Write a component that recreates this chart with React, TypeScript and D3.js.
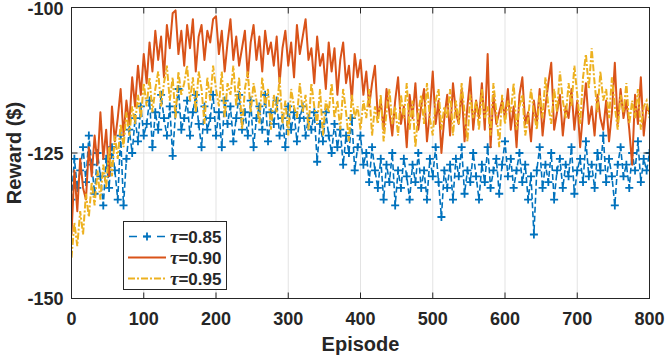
import * as d3 from "d3";

const tau085 = [
  -133, -126, -131, -128, -124, -130, -122, -127, -132, -125,
  -129, -134, -126, -131, -124, -128, -133, -122, -134, -126,
  -121, -125, -119, -123, -117, -122, -120, -116, -124, -118,
  -121, -115, -119, -122, -117, -125.5, -118, -114, -121, -119,
  -116, -122, -118, -115, -120, -124, -117, -121, -119, -115,
  -122, -118, -124, -116, -120, -117, -123, -119, -115, -121,
  -118, -122, -116, -124, -119, -117, -121, -115, -123, -118,
  -120, -116, -122, -119, -124, -117, -121, -118, -123, -119,
  -117, -122, -119, -121, -118, -126.5, -120, -123, -118, -122,
  -125, -120, -124, -121, -127, -122, -125, -119, -128, -124,
  -122, -127, -125, -130, -124, -128, -131, -126, -133, -127,
  -130, -125, -134, -128, -131, -126, -129, -133, -127, -130,
  -125, -131, -128, -133, -126, -129, -124, -130, -136, -128,
  -131, -127, -133, -126, -129, -124, -132, -128, -130, -125,
  -129, -133, -127, -130, -124, -131, -128, -126, -132, -127,
  -123, -129, -126, -131, -128, -125, -130, -127, -133, -129,
  -139, -128, -124, -131, -127, -130, -125, -133, -128, -126,
  -131, -127, -129, -124, -132, -128, -126, -130, -123, -129,
  -127, -131, -125, -128, -122, -130, -126, -129, -134, -127,
  -124, -129, -127, -131, -125, -128, -123, -130, -126, -128,
  -125,
];

const tau090 = [
  -139, -128, -135, -126, -131, -133, -124, -129, -122, -127,
  -118, -126, -121, -129, -117, -123, -119, -114, -122, -116,
  -120, -112, -117, -110, -115, -108, -113, -106, -111, -104,
  -109, -105, -112, -103, -107, -101, -100.5, -108, -104, -110,
  -103, -107, -102, -111, -105, -103, -109, -104, -106, -102,
  -101.5, -108, -104, -111, -106, -102, -109, -105, -110, -107,
  -104, -112, -106, -103, -109, -105, -111, -104, -108, -106,
  -110, -105, -113, -107, -104, -110, -106, -112, -103, -108,
  -105, -102, -109, -107, -113, -105, -110, -108, -114, -106,
  -111, -107, -115, -109, -106, -113, -110, -116, -108, -112,
  -109, -115, -111, -117, -113, -110, -119, -116, -121, -114,
  -118, -122, -116, -112, -120, -117, -124, -115, -119, -113,
  -121, -117, -114, -123, -118, -111, -120, -116, -125, -119,
  -115, -122, -113, -118, -120, -114, -123, -117, -112, -121,
  -116, -119, -113, -121, -108, -124, -115, -120, -118, -116,
  -119, -114, -121, -117, -124, -115, -112, -120, -118, -123,
  -116, -120, -114, -122, -117, -113, -109.5, -121, -118, -115,
  -122, -117, -119, -114, -121, -116, -124, -118, -113, -120,
  -117, -122, -115, -119, -121, -116, -123, -118, -109.5, -120,
  -114, -119, -116, -121, -127, -115, -120, -112, -122, -117,
  -118,
];

const tau095 = [
  -143, -137, -141, -135, -139, -132, -136, -130, -134, -128,
  -133, -127, -131, -124, -129, -122, -126, -120, -124, -118,
  -122, -117, -120, -115, -119, -113, -117, -112, -118, -114,
  -111, -117, -113, -110, -116, -112, -119, -111, -115, -113,
  -110, -116, -112, -118, -111, -114, -120, -112, -116, -110,
  -114, -117, -111, -119, -113, -115, -110, -117, -112, -121,
  -114, -111, -118, -113, -116, -120, -112, -117, -114, -121,
  -115, -118, -112, -120, -116, -122, -114, -117, -119, -113,
  -118, -115, -121, -113, -117, -120, -114, -122, -116, -118,
  -113, -119, -116, -121, -114, -118, -123, -115, -119, -117,
  -121, -116, -119, -114, -122, -117, -120, -115, -123, -118,
  -114, -120, -117, -122, -115, -119, -113, -121, -116, -124,
  -118, -115, -120, -113, -119, -122, -116, -114, -121, -117,
  -119, -114, -122, -116, -120, -113, -118, -123, -115, -119,
  -116, -121, -114, -119, -117, -122, -113, -118, -124, -115,
  -120, -116, -118, -113, -121, -117, -115, -122, -119, -114,
  -118, -121, -115, -119, -112, -117, -120, -114, -118, -111,
  -116, -119, -113, -117, -110, -115, -120, -112, -108, -114,
  -107, -113, -118, -111, -116, -114, -119, -112, -117, -121,
  -115, -118, -113, -120, -116, -119, -114, -121, -117, -116,
  -119,
];

const episodeStep = 4;
const xTicks = [0, 100, 200, 300, 400, 500, 600, 700, 800];
const yTicks = [-150, -125, -100];
const legendLabels = ["=0.85", "=0.90", "=0.95"];

const blue = "#0072BD";
const orange = "#D95319";
const yellow = "#EDB120";
const axisColor = "#262626";
const font = "'Liberation Sans', Arial, Helvetica, sans-serif";

export default function App() {
  const width = 665, height = 358;
  const margin = { top: 7.5, right: 15.5, bottom: 59.5, left: 71.5 };
  const x0 = margin.left, x1 = width - margin.right;
  const y0 = margin.top, y1 = height - margin.bottom;

  const xScale = d3.scaleLinear().domain([0, 800]).range([x0, x1]);
  const yScale = d3.scaleLinear().domain([-150, -100]).range([y1, y0]);

  const toPts = (arr: number[]) => arr.map((v, i) => ({ x: i * episodeStep, y: v }));
  const line = d3.line<{ x: number; y: number }>()
    .x((d) => xScale(d.x))
    .y((d) => yScale(d.y));

  const bluePts = toPts(tau085);
  const tick = 6;

  return (
    <svg width={width} height={height} style={{ position: "absolute", left: 0, top: 0, background: "#fff" }}>
      <defs>
        <clipPath id="plotArea">
          <rect x={x0} y={y0} width={x1 - x0} height={y1 - y0} />
        </clipPath>
      </defs>
      <rect x={0} y={0} width={width} height={height} fill="#fff" />

      {/* grid */}
      <g stroke="#e3e3e3" strokeWidth={1}>
        {xTicks.slice(1, -1).map((t) => (
          <line key={"gx" + t} x1={xScale(t)} x2={xScale(t)} y1={y0} y2={y1} />
        ))}
        {yTicks.slice(1, -1).map((t) => (
          <line key={"gy" + t} x1={x0} x2={x1} y1={yScale(t)} y2={yScale(t)} />
        ))}
      </g>

      <g clipPath="url(#plotArea)">
        {/* tau = 0.85 */}
        <path d={line(bluePts) || ""} fill="none" stroke={blue} strokeWidth={1.6} strokeDasharray="6,3" />
        <g stroke={blue} strokeWidth={1.8}>
          {bluePts.map((p, i) => (
            <path key={i} d={`M${xScale(p.x) - 4},${yScale(p.y)}h8M${xScale(p.x)},${yScale(p.y) - 4}v8`} />
          ))}
        </g>
        {/* tau = 0.90 */}
        <path d={line(toPts(tau090)) || ""} fill="none" stroke={orange} strokeWidth={2} strokeLinejoin="round" />
        {/* tau = 0.95 */}
        <path d={line(toPts(tau095)) || ""} fill="none" stroke={yellow} strokeWidth={2} strokeDasharray="7,2,2,2" />
      </g>

      {/* axes box */}
      <g stroke={axisColor} strokeWidth={1} fill="none">
        <rect x={x0} y={y0} width={x1 - x0} height={y1 - y0} />
        {xTicks.slice(1, -1).map((t) => (
          <g key={"tx" + t}>
            <line x1={xScale(t)} x2={xScale(t)} y1={y1} y2={y1 - tick} />
            <line x1={xScale(t)} x2={xScale(t)} y1={y0} y2={y0 + tick} />
          </g>
        ))}
        {yTicks.slice(1, -1).map((t) => (
          <g key={"ty" + t}>
            <line x1={x0} x2={x0 + tick} y1={yScale(t)} y2={yScale(t)} />
            <line x1={x1} x2={x1 - tick} y1={yScale(t)} y2={yScale(t)} />
          </g>
        ))}
      </g>

      {/* tick labels */}
      <g fill={axisColor} fontFamily={font} fontWeight="bold" fontSize={18}>
        {xTicks.map((t) => (
          <text key={"lx" + t} x={xScale(t)} y={325} textAnchor="middle">{t}</text>
        ))}
        {yTicks.map((t) => (
          <text key={"ly" + t} x={x0 - 8} y={Math.max(yScale(t) + 6.5, 15)} textAnchor="end">{t}</text>
        ))}
      </g>

      {/* axis titles */}
      <text x={(x0 + x1) / 2} y={351} textAnchor="middle" fontFamily={font} fontWeight="bold" fontSize={20} fill={axisColor}>
        Episode
      </text>
      <text
        transform={`translate(21,${(y0 + y1) / 2}) rotate(-90)`}
        textAnchor="middle"
        fontFamily={font}
        fontWeight="bold"
        fontSize={20}
        fill={axisColor}
      >
        Reward ($)
      </text>

      {/* legend */}
      <g>
        <rect x={123.5} y={221.5} width={103} height={68} fill="#fff" stroke={axisColor} strokeWidth={1} />
        {legendLabels.map((lab, i) => {
          const ly = 236.5 + i * 21;
          return (
            <g key={lab}>
              {i === 0 && (
                <g stroke={blue}>
                  <line x1={128} x2={166} y1={ly} y2={ly} strokeWidth={1.6} strokeDasharray="8,6" strokeDashoffset={-1} />
                  <path d={`M${143},${ly}h8M${147},${ly - 4}v8`} strokeWidth={1.8} />
                </g>
              )}
              {i === 1 && <line x1={128} x2={166} y1={ly} y2={ly} stroke={orange} strokeWidth={2} />}
              {i === 2 && (
                <line x1={128} x2={166} y1={ly} y2={ly} stroke={yellow} strokeWidth={2} strokeDasharray="7,2,2,2" />
              )}
              <text x={170} y={ly + 6} fontFamily={font} fontWeight="bold" fontSize={17} fill={axisColor}>
                <tspan fontFamily="'Liberation Serif', 'DejaVu Serif', serif" fontStyle="italic" fontSize={19}>τ</tspan>
                {lab}
              </text>
            </g>
          );
        })}
      </g>
    </svg>
  );
}
